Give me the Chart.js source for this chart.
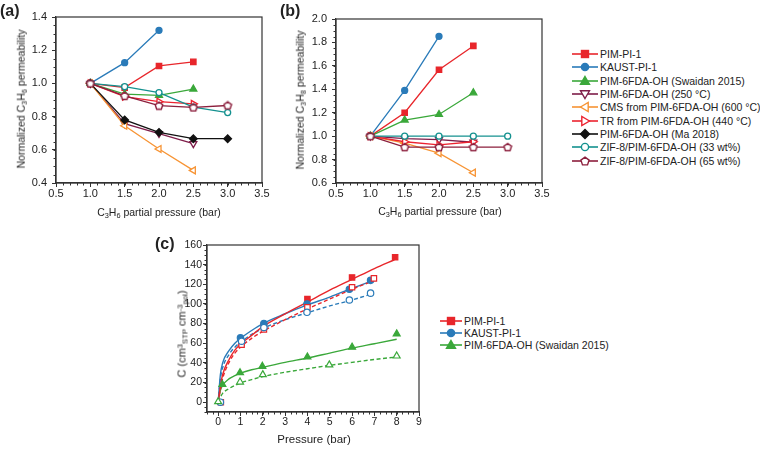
<!DOCTYPE html>
<html>
<head>
<meta charset="utf-8">
<script src="https://cdn.jsdelivr.net/npm/chart.js@4.4.1/dist/chart.umd.min.js"></script>
<style>
body { margin: 0; background: #fff; font-family: "Liberation Sans", Arial, sans-serif; color: #222; }
#wrap { position: relative; width: 760px; height: 449px; overflow: hidden; }
canvas { position: absolute; }
.lbl { position: absolute; font-weight: bold; font-size: 16px; line-height: 1; }
.ttl { position: absolute; white-space: nowrap; line-height: 1; transform: translate(-50%, -50%); }
.yt { transform: translate(-50%, -50%) rotate(-90deg); }
.sb { font-size: 70%; position: relative; top: 0.3em; }
.sp { font-size: 70%; position: relative; top: -0.45em; }
.row { position: absolute; white-space: nowrap; display: flex; align-items: center; font-size: 10.5px; height: 14px; }
.row svg { margin-right: 2px; }
</style>
</head>
<body>
<div id="wrap">
  <canvas id="chartA" width="280" height="222" style="left:0;top:0"></canvas>
  <canvas id="chartB" width="280" height="222" style="left:280px;top:0"></canvas>
  <canvas id="chartC" width="290" height="219" style="left:150px;top:230px"></canvas>

  <div class="lbl" style="left:0;top:3px">(a)</div>
  <div class="lbl" style="left:280px;top:3px">(b)</div>
  <div class="lbl" style="left:155px;top:236px">(c)</div>

  <div class="ttl yt" style="left:21px;top:99px;font-size:10.5px">Normalized C<span class="sb">3</span>H<span class="sb">6</span> permeability</div>
  <div class="ttl" style="left:159px;top:212px;font-size:10.5px">C<span class="sb">3</span>H<span class="sb">6</span> partial pressure (bar)</div>
  <div class="ttl yt" style="left:300px;top:100px;font-size:10.5px">Normalized C<span class="sb">3</span>H<span class="sb">8</span> permeability</div>
  <div class="ttl" style="left:440px;top:211px;font-size:10.5px">C<span class="sb">3</span>H<span class="sb">6</span> partial pressure (bar)</div>
  <div class="ttl yt" style="left:182px;top:334px;font-size:11px">C (cm<span class="sp">3</span><span class="sb">STP</span> cm<span class="sp">-3</span><span class="sb">pol</span>)</div>
  <div class="ttl" style="left:314px;top:440px;font-size:11.5px">Pressure (bar)</div>

  <div id="legendAB"></div>
  <div id="legendC"></div>
</div>

<script>
// --- datos (a) y (b): presión parcial de C3H6 (bar)
const pressures = [1.0, 1.5, 2.0, 2.5, 3.0];

const seriesNames = [
    'PIM-PI-1',
    'KAUST-PI-1',
    'PIM-6FDA-OH (Swaidan 2015)',
    'PIM-6FDA-OH (250 °C)',
    'CMS from PIM-6FDA-OH (600 °C)',
    'TR from PIM-6FDA-OH (440 °C)',
    'PIM-6FDA-OH (Ma 2018)',
    'ZIF-8/PIM-6FDA-OH (33 wt%)',
    'ZIF-8/PIM-6FDA-OH (65 wt%)'
];

// (a) permeabilidad normalizada de C3H6
const aPimPi1  = [1.00, 0.975, 1.105, 1.13];
const aKaust   = [1.00, 1.125, 1.32];
const aSwaidan = [1.00, 0.935, 0.928, 0.966];
const a250     = [1.00, 0.757, 0.698, 0.637];
const aCms     = [1.00, 0.745, 0.605, 0.476];
const aTr      = [1.00, 0.92, 0.89, 0.877];
const aMa      = [1.00, 0.78, 0.705, 0.667, 0.667];
const aZif33   = [1.00, 0.98, 0.945, 0.857, 0.824];
const aZif65   = [1.00, 0.925, 0.866, 0.855, 0.867];

// (b) permeabilidad normalizada de C3H8
const bPimPi1  = [1.00, 1.20, 1.567, 1.77];
const bKaust   = [1.00, 1.39, 1.852];
const bSwaidan = [1.00, 1.137, 1.185, 1.37];
const b250     = [1.00, 0.978, 0.97, 0.948];
const bCms     = [1.00, 0.94, 0.855, 0.688];
const bTr      = [1.00, 0.952, 0.925, 0.952];
const bZif33   = [1.00, 1.00, 1.00, 1.00, 1.00];
const bZif65   = [1.00, 0.906, 0.906, 0.906, 0.906];

const aValues = [aPimPi1, aKaust, aSwaidan, a250, aCms, aTr, aMa, aZif33, aZif65];
const bValues = [bPimPi1, bKaust, bSwaidan, b250, bCms, bTr, null, bZif33, bZif65];

const ticksAB_x = [0.5, 1.0, 1.5, 2.0, 2.5, 3.0, 3.5];
const ticksA_y = [0.4, 0.6, 0.8, 1.0, 1.2, 1.4];
const ticksB_y = [0.6, 0.8, 1.0, 1.2, 1.4, 1.6, 1.8, 2.0];

// (c) isotermas de sorción: puntos medidos
const cNames = ['PIM-PI-1', 'KAUST-PI-1', 'PIM-6FDA-OH (Swaidan 2015)'];
const cPimP      = [1.05, 2.05, 4.0, 6.0, 7.93];
const cPim       = [61, 78, 105, 127, 147.5];
const cPimOpenP  = [0.12, 1.05, 2.05, 4.0, 6.0, 6.98];
const cPimOpen   = [0, 58.5, 74, 96.5, 117, 126];
const cKauP      = [1.0, 2.05, 3.98, 5.88, 6.83];
const cKau       = [65.5, 80, 100, 115, 124];
const cKauOpenP  = [0.1, 1.05, 2.05, 3.98, 5.88, 6.83];
const cKauOpen   = [0, 62, 76, 91.5, 104, 111];
const cSwaP      = [0.19, 0.98, 1.98, 4.0, 6.0, 8.0];
const cSwa       = [18, 30, 36.5, 46, 56, 69.5];
const cSwaOpenP  = [0, 0.98, 2.0, 4.98, 8.0];
const cSwaOpen   = [0.5, 20.5, 28, 38, 47];

// (c) curvas de ajuste
const fitPimP     = [0, 0.1, 0.2, 0.5, 0.75, 1, 1.5, 2, 3, 4, 5, 6, 7, 7.9];
const fitPim      = [0, 16, 28, 44, 53, 59, 68, 77, 90, 102, 114, 125, 136, 145];
const fitPimDashP = [0, 0.1, 0.2, 0.5, 0.75, 1, 1.5, 2, 3, 4, 5, 6, 7];
const fitPimDash  = [0, 13, 24, 41, 50, 56, 65, 72, 84, 95, 105, 115, 124];
const fitKauP     = [0, 0.1, 0.2, 0.5, 0.75, 1, 1.5, 2, 3, 4, 5, 6, 6.85];
const fitKau      = [0, 28, 40, 53, 60, 65, 73, 80, 90, 99, 107, 116, 123];
const fitKauDash  = [0, 24, 35, 49, 56, 61, 69, 75, 84, 91, 98, 104, 110];
const fitSwaP     = [0, 0.1, 0.2, 0.5, 0.75, 1, 1.5, 2, 3, 4, 5, 6, 7, 8];
const fitSwa      = [0, 12, 17, 24, 27, 29.5, 33, 35.5, 40.5, 45, 50, 55, 59.5, 64];
const fitSwaDash  = [0, 5, 9, 14, 17, 19.5, 23, 26, 30.5, 34, 37.5, 40.5, 43.5, 46];

const ticksC_x = [0, 1, 2, 3, 4, 5, 6, 7, 8, 9];
const ticksC_y = [0, 20, 40, 60, 80, 100, 120, 140, 160];

// estilos
const seriesColors = ['#e8262b', '#2a7bb9', '#3aa83a', '#7e1d49', '#f79434', '#ec2330', '#111111', '#14918f', '#8c1f3d'];
const seriesMarkers = ['square', 'circle', 'triUp', 'triDown', 'triLeft', 'triRight', 'diamond', 'circle', 'pentagon'];
const seriesFilled = [true, true, true, false, false, false, true, false, false];

const FONT = '"Liberation Sans", Arial, sans-serif';

function pts(xs, ys) {
    return ys.map((v, i) => ({ x: xs[i], y: v }));
}

// Pentágono como imagen para pointStyle
function pentagonImage(color) {
    const c = document.createElement('canvas');
    c.width = 10; c.height = 10;
    const g = c.getContext('2d');
    g.beginPath();
    for (let k = 0; k < 5; k++) {
        const ang = -Math.PI / 2 + k * 2 * Math.PI / 5;
        const px = 5 + 4 * Math.cos(ang), py = 5.3 + 4 * Math.sin(ang);
        if (k === 0) g.moveTo(px, py); else g.lineTo(px, py);
    }
    g.closePath();
    g.fillStyle = '#fff';
    g.fill();
    g.lineWidth = 1.4;
    g.strokeStyle = color;
    g.stroke();
    return c;
}

function pointStyleFor(marker, color) {
    switch (marker) {
        case 'square': return { pointStyle: 'rect', rotation: 0, radius: 3.8 };
        case 'circle': return { pointStyle: 'circle', rotation: 0, radius: 3 };
        case 'triUp': return { pointStyle: 'triangle', rotation: 0, radius: 4 };
        case 'triDown': return { pointStyle: 'triangle', rotation: 180, radius: 4 };
        case 'triLeft': return { pointStyle: 'triangle', rotation: 270, radius: 4 };
        case 'triRight': return { pointStyle: 'triangle', rotation: 90, radius: 4 };
        case 'diamond': return { pointStyle: 'rectRot', rotation: 0, radius: 3.8 };
        case 'pentagon': return { pointStyle: pentagonImage(color), rotation: 0, radius: 4 };
    }
}

// Marco del área y marcas menores
const framePlugin = {
    id: 'frame',
    afterDraw(chart, args, opts) {
        const { ctx, chartArea: a } = chart;
        const x = chart.scales.x, y = chart.scales.y;
        ctx.save();
        ctx.strokeStyle = '#333';
        ctx.lineWidth = 1.2;
        ctx.strokeRect(a.left, a.top, a.right - a.left, a.bottom - a.top);
        ctx.lineWidth = 1;
        ctx.beginPath();
        const nx = Math.round((x.max - x.min) / opts.minorX);
        for (let i = 0; i <= nx; i++) {
            const px = Math.round(x.getPixelForValue(x.min + i * opts.minorX)) + 0.5;
            ctx.moveTo(px, a.bottom);
            ctx.lineTo(px, a.bottom + 2.5);
        }
        const ny = Math.round((y.max - y.min) / opts.minorY);
        for (let i = 0; i <= ny; i++) {
            const py = Math.round(y.getPixelForValue(y.min + i * opts.minorY)) + 0.5;
            ctx.moveTo(a.left, py);
            ctx.lineTo(a.left - 2.5, py);
        }
        ctx.stroke();
        ctx.restore();
    }
};

function makeOptions(cfg) {
    return {
        responsive: false,
        animation: false,
        devicePixelRatio: 1,
        layout: { padding: cfg.padding },
        plugins: {
            legend: { display: false },
            tooltip: { enabled: false },
            frame: { minorX: cfg.minorX, minorY: cfg.minorY }
        },
        scales: {
            x: {
                type: 'linear',
                min: cfg.xmin,
                max: cfg.xmax,
                afterBuildTicks: (s) => { s.ticks = cfg.xticks.map(v => ({ value: v })); },
                afterFit: (s) => { s.height = cfg.xh; },
                ticks: {
                    font: { family: FONT, size: cfg.tickSize },
                    color: '#222',
                    padding: 0,
                    maxRotation: 0,
                    autoSkip: false,
                    callback: cfg.xfmt
                },
                grid: { drawOnChartArea: false, drawTicks: true, tickLength: 4, color: '#333' },
                border: { display: true, color: '#333', width: 1.2 }
            },
            y: {
                type: 'linear',
                min: cfg.ymin,
                max: cfg.ymax,
                afterBuildTicks: (s) => { s.ticks = cfg.yticks.map(v => ({ value: v })); },
                afterFit: (s) => { s.width = cfg.yw; },
                ticks: {
                    font: { family: FONT, size: cfg.tickSize },
                    color: '#222',
                    padding: cfg.ypad,
                    autoSkip: false,
                    callback: cfg.yfmt
                },
                grid: { drawOnChartArea: false, drawTicks: true, tickLength: 4, color: '#333' },
                border: { display: true, color: '#333', width: 1.2 }
            }
        }
    };
}

function permeabilityDatasets(values) {
    const sets = [];
    values.forEach((vals, i) => {
        if (!vals) return;
        const color = seriesColors[i];
        const ps = pointStyleFor(seriesMarkers[i], color);
        sets.push({
            label: seriesNames[i],
            data: pts(pressures, vals),
            borderColor: color,
            borderWidth: 1.3,
            pointStyle: ps.pointStyle,
            pointRotation: ps.rotation,
            pointRadius: ps.radius,
            pointBorderWidth: 1.3,
            pointBorderColor: color,
            pointBackgroundColor: seriesFilled[i] ? color : '#fff',
            order: seriesNames.length - i,
            clip: false
        });
    });
    return sets;
}

const fmt1 = (v) => Number(v).toFixed(1);

new Chart(document.getElementById('chartA'), {
    type: 'line',
    data: { datasets: permeabilityDatasets(aValues) },
    options: makeOptions({
        padding: { left: 0, top: 17, right: 18, bottom: 0 },
        xmin: 0.5, xmax: 3.5, ymin: 0.4, ymax: 1.4,
        xticks: ticksAB_x, yticks: ticksA_y,
        xh: 39, yw: 56, ypad: 5, tickSize: 11,
        minorX: 0.1, minorY: 0.05,
        xfmt: fmt1, yfmt: fmt1
    }),
    plugins: [framePlugin]
});

new Chart(document.getElementById('chartB'), {
    type: 'line',
    data: { datasets: permeabilityDatasets(bValues) },
    options: makeOptions({
        padding: { left: 0, top: 19, right: 18, bottom: 0 },
        xmin: 0.5, xmax: 3.5, ymin: 0.6, ymax: 2.0,
        xticks: ticksAB_x, yticks: ticksB_y,
        xh: 39, yw: 56, ypad: 5, tickSize: 11,
        minorX: 0.1, minorY: 0.05,
        xfmt: fmt1, yfmt: fmt1
    }),
    plugins: [framePlugin]
});

// (c) conjuntos: curvas de ajuste y puntos
const cColors = [seriesColors[0], seriesColors[1], seriesColors[2]];

function fitSet(xs, ys, color, dashed) {
    return {
        data: pts(xs, ys),
        borderColor: color,
        borderWidth: 1.4,
        borderDash: dashed ? [4, 2.5] : [],
        pointRadius: 0,
        cubicInterpolationMode: 'monotone',
        order: 10,
        clip: false
    };
}

function pointSet(xs, ys, color, style, radius, filled) {
    return {
        data: pts(xs, ys),
        showLine: false,
        pointStyle: style,
        pointRadius: radius,
        pointBorderWidth: 1.2,
        pointBorderColor: color,
        pointBackgroundColor: filled ? color : '#fff',
        order: 1,
        clip: false
    };
}

new Chart(document.getElementById('chartC'), {
    type: 'line',
    data: {
        datasets: [
            fitSet(fitPimP, fitPim, cColors[0], false),
            fitSet(fitPimDashP, fitPimDash, cColors[0], true),
            fitSet(fitKauP, fitKau, cColors[1], false),
            fitSet(fitKauP, fitKauDash, cColors[1], true),
            fitSet(fitSwaP, fitSwa, cColors[2], false),
            fitSet(fitSwaP, fitSwaDash, cColors[2], true),
            pointSet(cSwaOpenP, cSwaOpen, cColors[2], 'triangle', 4, false),
            pointSet(cSwaP, cSwa, cColors[2], 'triangle', 4, true),
            pointSet(cKauOpenP, cKauOpen, cColors[1], 'circle', 3.2, false),
            pointSet(cPimOpenP, cPimOpen, cColors[0], 'rect', 3.8, false),
            pointSet(cKauP, cKau, cColors[1], 'circle', 3.2, true),
            pointSet(cPimP, cPim, cColors[0], 'rect', 3.8, true)
        ]
    },
    options: makeOptions({
        padding: { left: 0, top: 15, right: 21, bottom: 0 },
        xmin: -0.5, xmax: 9, ymin: -10, ymax: 160,
        xticks: ticksC_x, yticks: ticksC_y,
        xh: 37, yw: 57, ypad: 1, tickSize: 10.5,
        minorX: 0.25, minorY: 5,
        xfmt: (v) => String(v), yfmt: (v) => String(v)
    }),
    plugins: [framePlugin]
});

// --- leyendas HTML
function markerSvg(type, color, filled, cx, cy) {
    const fill = filled ? color : '#fff';
    const st = `fill="${fill}" stroke="${color}" stroke-width="1.4"`;
    const poly = (p) => `<polygon points="${p.map(q => q.join(',')).join(' ')}" ${st}/>`;
    switch (type) {
        case 'square': return `<rect x="${cx - 3.5}" y="${cy - 3.5}" width="7" height="7" ${st}/>`;
        case 'circle': return `<circle cx="${cx}" cy="${cy}" r="3.6" ${st}/>`;
        case 'triUp': return poly([[cx, cy - 4.5], [cx + 4.5, cy + 3.2], [cx - 4.5, cy + 3.2]]);
        case 'triDown': return poly([[cx, cy + 4.5], [cx + 4.5, cy - 3.2], [cx - 4.5, cy - 3.2]]);
        case 'triLeft': return poly([[cx - 4.5, cy], [cx + 3.2, cy - 4.5], [cx + 3.2, cy + 4.5]]);
        case 'triRight': return poly([[cx + 4.5, cy], [cx - 3.2, cy - 4.5], [cx - 3.2, cy + 4.5]]);
        case 'diamond': return poly([[cx, cy - 4.5], [cx + 4.5, cy], [cx, cy + 4.5], [cx - 4.5, cy]]);
        case 'pentagon': {
            const p = [];
            for (let k = 0; k < 5; k++) {
                const ang = -Math.PI / 2 + k * 2 * Math.PI / 5;
                p.push([(cx + 4.3 * Math.cos(ang)).toFixed(2), (cy + 0.4 + 4.3 * Math.sin(ang)).toFixed(2)]);
            }
            return poly(p);
        }
    }
}

function legendRow(name, color, marker, filled, x, y, w) {
    return `<div class="row" style="left:${x}px;top:${(y - 7).toFixed(1)}px">` +
        `<svg width="${w}" height="14"><line x1="0" y1="7" x2="${w}" y2="7" stroke="${color}" stroke-width="1.6"/>` +
        markerSvg(marker, color, filled, w / 2, 7) + `</svg><span>${name}</span></div>`;
}

let htmlAB = '';
seriesNames.forEach((n, i) => {
    htmlAB += legendRow(n, seriesColors[i], seriesMarkers[i], seriesFilled[i], 572, 54 + i * 13.33, 26);
});
document.getElementById('legendAB').innerHTML = htmlAB;

let htmlC = '';
cNames.forEach((n, i) => {
    htmlC += legendRow(n, cColors[i], seriesMarkers[i], true, 440, 321 + i * 12, 22);
});
document.getElementById('legendC').innerHTML = htmlC;
</script>
</body>
</html>
